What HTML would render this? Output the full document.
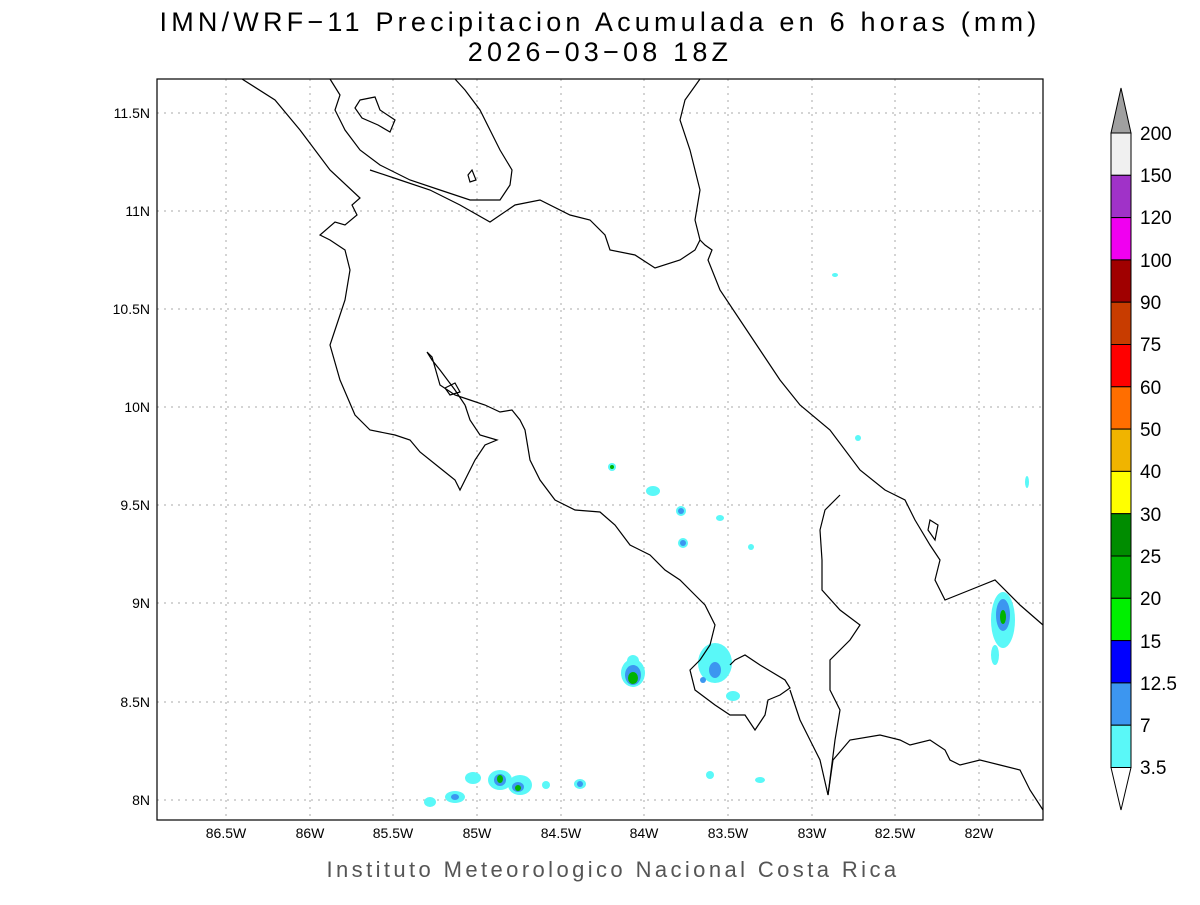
<!DOCTYPE html>
<html><head><meta charset="utf-8"><style>
body{margin:0;background:#fff;}
svg text{font-family:"Liberation Sans",sans-serif;}
</style></head><body>
<svg width="1200" height="900" xmlns="http://www.w3.org/2000/svg">
<rect width="1200" height="900" fill="#fff"/>
<text x="600" y="31" font-size="27" text-anchor="middle" letter-spacing="4.2">IMN/WRF−11 Precipitacion Acumulada en 6 horas (mm)</text>
<text x="600" y="61" font-size="27" text-anchor="middle" letter-spacing="4.2">2026−03−08 18Z</text>
<g stroke="#aaa" stroke-width="1" stroke-dasharray="2,5">
<line x1="226" y1="79" x2="226" y2="820"/><line x1="310" y1="79" x2="310" y2="820"/><line x1="393" y1="79" x2="393" y2="820"/><line x1="477" y1="79" x2="477" y2="820"/><line x1="561" y1="79" x2="561" y2="820"/><line x1="644" y1="79" x2="644" y2="820"/><line x1="728" y1="79" x2="728" y2="820"/><line x1="812" y1="79" x2="812" y2="820"/><line x1="895" y1="79" x2="895" y2="820"/><line x1="979" y1="79" x2="979" y2="820"/>
<line x1="157" y1="113" x2="1043" y2="113"/><line x1="157" y1="211" x2="1043" y2="211"/><line x1="157" y1="309" x2="1043" y2="309"/><line x1="157" y1="407" x2="1043" y2="407"/><line x1="157" y1="505" x2="1043" y2="505"/><line x1="157" y1="603" x2="1043" y2="603"/><line x1="157" y1="702" x2="1043" y2="702"/><line x1="157" y1="800" x2="1043" y2="800"/>
</g>
<g>
<g fill="#5af8f8">
<ellipse cx="612" cy="467" rx="4" ry="4"/><ellipse cx="653" cy="491" rx="7" ry="5"/><ellipse cx="681" cy="511" rx="5" ry="5"/><ellipse cx="683" cy="543" rx="5" ry="5"/><ellipse cx="720" cy="518" rx="4" ry="3"/><ellipse cx="751" cy="547" rx="3" ry="3"/>
<ellipse cx="633" cy="673" rx="12" ry="14"/><ellipse cx="633" cy="661" rx="6" ry="6"/><ellipse cx="715" cy="663" rx="17" ry="20"/><ellipse cx="733" cy="696" rx="7" ry="5"/>
<ellipse cx="1003" cy="620" rx="12" ry="28"/><ellipse cx="995" cy="655" rx="4" ry="10"/><ellipse cx="1027" cy="482" rx="2" ry="6"/>
<ellipse cx="500" cy="780" rx="12" ry="10"/><ellipse cx="520" cy="785" rx="12" ry="10"/><ellipse cx="473" cy="778" rx="8" ry="6"/><ellipse cx="455" cy="797" rx="10" ry="6"/><ellipse cx="430" cy="802" rx="6" ry="5"/><ellipse cx="580" cy="784" rx="6" ry="5"/><ellipse cx="546" cy="785" rx="4" ry="4"/>
<ellipse cx="760" cy="780" rx="5" ry="3"/><ellipse cx="710" cy="775" rx="4" ry="4"/><ellipse cx="858" cy="438" rx="3" ry="3"/><ellipse cx="835" cy="275" rx="3" ry="2"/>
</g>
<g fill="#3c96f0">
<ellipse cx="633" cy="675" rx="8" ry="10"/><ellipse cx="715" cy="670" rx="6" ry="8"/><ellipse cx="703" cy="680" rx="3" ry="3"/><ellipse cx="1003" cy="615" rx="7" ry="16"/><ellipse cx="500" cy="780" rx="6" ry="6"/><ellipse cx="518" cy="787" rx="6" ry="5"/><ellipse cx="455" cy="797" rx="4" ry="3"/><ellipse cx="580" cy="784" rx="3" ry="3"/><ellipse cx="683" cy="543" rx="3" ry="3"/><ellipse cx="681" cy="511" rx="3" ry="3"/>
</g>
<g fill="#00b400"><ellipse cx="633" cy="678" rx="5" ry="6"/><ellipse cx="1003" cy="617" rx="3" ry="7"/><ellipse cx="500" cy="779" rx="3" ry="4"/><ellipse cx="518" cy="788" rx="3" ry="3"/><ellipse cx="612" cy="467" rx="2" ry="2"/></g>
</g>
<g fill="none" stroke="#000" stroke-width="1.2">
<polyline points="242,79 275,100 300,130 330,170 360,198 352,205 357,215 345,225 335,222 320,235 330,240 345,250 350,270 345,300 335,330 330,345 340,380 355,415 370,430 395,435 410,440 420,452 440,468 455,480 460,490 470,470 475,460 485,445 497,440 480,435 470,420 465,405 455,390 440,370 432,360 427,352 432,357 440,385 455,395 470,400 485,405 500,412 512,410 520,420 525,430 530,460 540,480 555,500 575,510 600,512 615,525 630,545 650,555 665,570 680,580 695,595 705,605 715,625 710,645 700,660 690,670 695,690 715,705 730,715 745,715 755,730 765,715 768,700 780,695 790,688 785,680 760,665 745,655 735,660 730,665"/>
<polyline points="790,690 800,720 810,740 820,760 828,795 833,760 850,740 880,735 900,740 910,745 930,740 945,750 950,760 960,765 980,760 1000,765 1020,770 1030,790 1043,810"/>
<polyline points="370,170 400,180 430,190 460,205 490,222 515,205 540,200 570,215 590,220 605,235 610,250 635,255 655,268 680,260 695,250 700,240 705,245 712,250 708,260 720,290 740,320 760,350 780,380 800,405 830,430 860,470 885,490 905,500 915,520 930,545 940,560 935,580 945,600 970,590 995,580 1020,605 1043,625"/>
<polyline points="330,79 340,95 335,110 345,130 360,150 380,165 410,180 440,190 470,200 500,200 510,185 512,170 500,150 490,130 480,110 465,90 455,79"/>
<polyline points="700,79 685,100 680,120 690,150 700,190 695,220 700,240"/>
<polyline points="840,495 825,510 820,530 822,560 822,590 840,610 860,625 850,640 830,660 830,690 840,710 835,740 828,795"/>
<polygon points="360,100 375,97 380,110 395,120 390,132 378,125 362,118 355,108"/>
<polygon points="445,388 455,383 460,392 450,395"/>
<polygon points="468,175 472,170 476,180 470,182"/>
<polygon points="930,520 938,525 935,540 928,530"/>
</g>
<rect x="157" y="79" width="886" height="741" fill="none" stroke="#000" stroke-width="1.2"/>
<g font-size="14" text-anchor="end">
<text x="150" y="118">11.5N</text><text x="150" y="216">11N</text><text x="150" y="314">10.5N</text><text x="150" y="412">10N</text><text x="150" y="510">9.5N</text><text x="150" y="608">9N</text><text x="150" y="707">8.5N</text><text x="150" y="805">8N</text>
</g>
<g font-size="14" text-anchor="middle">
<text x="226" y="838">86.5W</text><text x="310" y="838">86W</text><text x="393" y="838">85.5W</text><text x="477" y="838">85W</text><text x="561" y="838">84.5W</text><text x="644" y="838">84W</text><text x="728" y="838">83.5W</text><text x="812" y="838">83W</text><text x="895" y="838">82.5W</text><text x="979" y="838">82W</text>
</g>
<text x="613" y="877" font-size="22" fill="#555" text-anchor="middle" letter-spacing="3.4">Instituto Meteorologico Nacional Costa Rica</text>
<g stroke="#000" stroke-width="1">
<polygon points="1111,133 1131,133 1121,88" fill="#a0a0a0"/>
<rect x="1111" y="133" width="20" height="42.3" fill="#f0f0f0"/>
<rect x="1111" y="175.3" width="20" height="42.3" fill="#a032c8"/>
<rect x="1111" y="217.6" width="20" height="42.3" fill="#f000f0"/>
<rect x="1111" y="259.9" width="20" height="42.3" fill="#a00000"/>
<rect x="1111" y="302.2" width="20" height="42.3" fill="#c83c00"/>
<rect x="1111" y="344.5" width="20" height="42.3" fill="#ff0000"/>
<rect x="1111" y="386.8" width="20" height="42.3" fill="#ff6e00"/>
<rect x="1111" y="429.1" width="20" height="42.3" fill="#f0b400"/>
<rect x="1111" y="471.4" width="20" height="42.3" fill="#ffff00"/>
<rect x="1111" y="513.7" width="20" height="42.3" fill="#008c00"/>
<rect x="1111" y="556" width="20" height="42.3" fill="#00b400"/>
<rect x="1111" y="598.3" width="20" height="42.3" fill="#00f000"/>
<rect x="1111" y="640.6" width="20" height="42.3" fill="#0000ff"/>
<rect x="1111" y="682.9" width="20" height="42.3" fill="#3c96f0"/>
<rect x="1111" y="725.2" width="20" height="42.3" fill="#5af8f8"/>
<polygon points="1111,767.5 1131,767.5 1121,810" fill="#fff"/>
</g>
<g font-size="19">
<text x="1140" y="140">200</text><text x="1140" y="182">150</text><text x="1140" y="224">120</text><text x="1140" y="267">100</text><text x="1140" y="309">90</text><text x="1140" y="351">75</text><text x="1140" y="394">60</text><text x="1140" y="436">50</text><text x="1140" y="478">40</text><text x="1140" y="521">30</text><text x="1140" y="563">25</text><text x="1140" y="605">20</text><text x="1140" y="648">15</text><text x="1140" y="690">12.5</text><text x="1140" y="732">7</text><text x="1140" y="774">3.5</text>
</g>
</svg>
</body></html>
